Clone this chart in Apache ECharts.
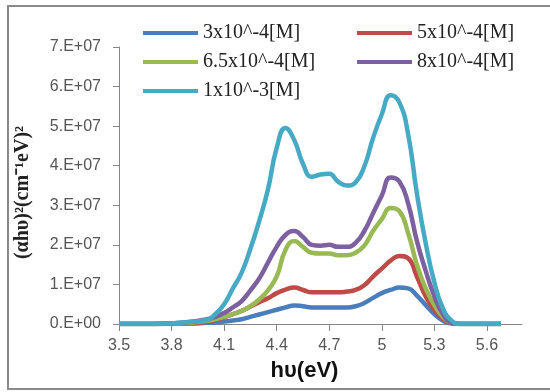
<!DOCTYPE html>
<html>
<head>
<meta charset="utf-8">
<script src="https://cdn.jsdelivr.net/npm/echarts@6/dist/echarts.min.js"></script>
<style>
  html, body { margin: 0; padding: 0; background: #fff; }
  #chart { width: 550px; height: 392px; }
</style>
</head>
<body>
<div id="chart"></div>
<script>
// photon energy hv (eV)
const energy = [3.5, 3.6, 3.7, 3.8, 3.9, 4.0, 4.05, 4.1, 4.15, 4.2, 4.25, 4.3, 4.35, 4.4, 4.45, 4.5, 4.55, 4.6, 4.65, 4.7, 4.75, 4.8, 4.85, 4.9, 4.95, 5.0, 5.05, 5.1, 5.15, 5.2, 5.25, 5.3, 5.35, 5.4, 5.45, 5.5, 5.6, 5.68];

// (ahv)^2 in units of 1e7
const c3e4 = [0, 0, 0, 0, 0.01, 0.03, 0.04, 0.06, 0.09, 0.12, 0.18, 0.24, 0.3, 0.36, 0.42, 0.47, 0.45, 0.42, 0.42, 0.42, 0.42, 0.42, 0.45, 0.53, 0.66, 0.78, 0.86, 0.92, 0.9, 0.72, 0.48, 0.25, 0.08, 0.01, 0, 0, 0, 0];
const c5e4 = [0, 0, 0, 0.01, 0.02, 0.05, 0.1, 0.17, 0.25, 0.33, 0.44, 0.55, 0.65, 0.78, 0.87, 0.92, 0.86, 0.8, 0.8, 0.8, 0.8, 0.82, 0.86, 0.98, 1.2, 1.4, 1.6, 1.72, 1.66, 1.2, 0.7, 0.35, 0.12, 0.02, 0, 0, 0, 0];
const c65e4 = [0, 0, 0, 0.01, 0.03, 0.08, 0.12, 0.18, 0.25, 0.33, 0.45, 0.62, 0.85, 1.2, 1.87, 2.1, 1.95, 1.8, 1.78, 1.78, 1.74, 1.74, 1.8, 1.98, 2.35, 2.65, 2.93, 2.85, 2.3, 1.5, 0.9, 0.48, 0.17, 0.03, 0, 0, 0, 0];
const c8e4 = [0, 0, 0, 0.02, 0.05, 0.12, 0.18, 0.28, 0.42, 0.58, 0.85, 1.15, 1.55, 1.95, 2.25, 2.35, 2.2, 2.0, 1.98, 2.0, 1.95, 1.95, 2.05, 2.35, 2.8, 3.25, 3.7, 3.6, 3.05, 2.1, 1.35, 0.7, 0.24, 0.03, 0, 0, 0, 0];
const c1e3 = [0, 0, 0, 0.02, 0.05, 0.1, 0.25, 0.5, 0.9, 1.3, 1.9, 2.6, 3.4, 4.45, 4.95, 4.65, 4.05, 3.72, 3.78, 3.8, 3.6, 3.5, 3.58, 3.98, 4.7, 5.3, 5.78, 5.6, 4.8, 3.3, 2.05, 1.05, 0.38, 0.08, 0, 0, 0, 0];

const names = ["3x10^-4[M]", "5x10^-4[M]", "6.5x10^-4[M]", "8x10^-4[M]", "1x10^-3[M]"];
const colors = ["#4A7EBB", "#BE4B48", "#98B954", "#7D60A0", "#46AAC5"];
const xTicks = [3.5, 3.8, 4.1, 4.4, 4.7, 5, 5.3, 5.6];

const chart = echarts.init(document.getElementById("chart"));

const makeSeries = (name, vals, color) => ({
  name: name,
  type: "line",
  smooth: true,
  symbol: "none",
  data: energy.map((e, i) => [e, vals[i] * 1e7]),
  lineStyle: { width: 4.5, color: color },
  itemStyle: { color: color }
});

const legendText = {
  fontFamily: "Liberation Serif",
  fontSize: 20,
  color: "#222",
  lineHeight: 22
};

const legendBase = {
  orient: "vertical",
  top: 17,
  icon: "rect",
  itemWidth: 55,
  itemHeight: 4,
  itemGap: 7,
  textStyle: legendText
};

const option = {
  animation: false,
  grid: { left: 119, right: 28, top: 47, bottom: 68 },
  legend: [
    Object.assign({}, legendBase, { data: [names[0], names[2], names[4]], left: 138 }),
    Object.assign({}, legendBase, { data: [names[1], names[3]], left: 352 })
  ],
  xAxis: {
    type: "value",
    min: 3.5,
    max: 5.8,
    name: "hυ(eV)",
    nameLocation: "middle",
    nameGap: 36,
    nameTextStyle: {
      fontFamily: "Liberation Sans",
      fontWeight: "bold",
      fontSize: 22,
      color: "#111",
      padding: [0, 32, 0, 0]
    },
    axisLine: { lineStyle: { color: "#868686", width: 1 } },
    axisTick: { show: true, length: 7, customValues: xTicks, lineStyle: { color: "#868686" } },
    axisLabel: {
      customValues: xTicks,
      margin: 14,
      fontFamily: "Liberation Sans",
      fontSize: 16,
      color: "#555"
    },
    splitLine: { show: false }
  },
  yAxis: {
    type: "value",
    min: 0,
    max: 7e7,
    interval: 1e7,
    name: "(αhυ)²(cm⁻¹eV)²",
    nameLocation: "middle",
    nameRotate: 90,
    nameGap: 86,
    nameTextStyle: {
      fontFamily: "Liberation Serif",
      fontWeight: "bold",
      fontSize: 20,
      color: "#222",
      padding: [0, 14, 0, 0]
    },
    axisLine: { show: true, lineStyle: { color: "#868686", width: 1 } },
    axisTick: { show: true, length: 6, lineStyle: { color: "#868686" } },
    axisLabel: {
      margin: 18,
      fontFamily: "Liberation Sans",
      fontSize: 16,
      color: "#555",
      formatter: v => (v === 0 ? "0.E+00" : (v / 1e7) + ".E+07")
    },
    splitLine: { show: false }
  },
  graphic: [
    {
      type: "polyline",
      shape: { points: [[550, 6], [8, 6], [8, 389], [550, 389]] },
      style: { stroke: "#8a8a8a", lineWidth: 2, fill: null },
      silent: true
    }
  ],
  series: [
    makeSeries(names[0], c3e4, colors[0]),
    makeSeries(names[1], c5e4, colors[1]),
    makeSeries(names[2], c65e4, colors[2]),
    makeSeries(names[3], c8e4, colors[3]),
    makeSeries(names[4], c1e3, colors[4])
  ]
};

chart.setOption(option);
</script>
</body>
</html>
